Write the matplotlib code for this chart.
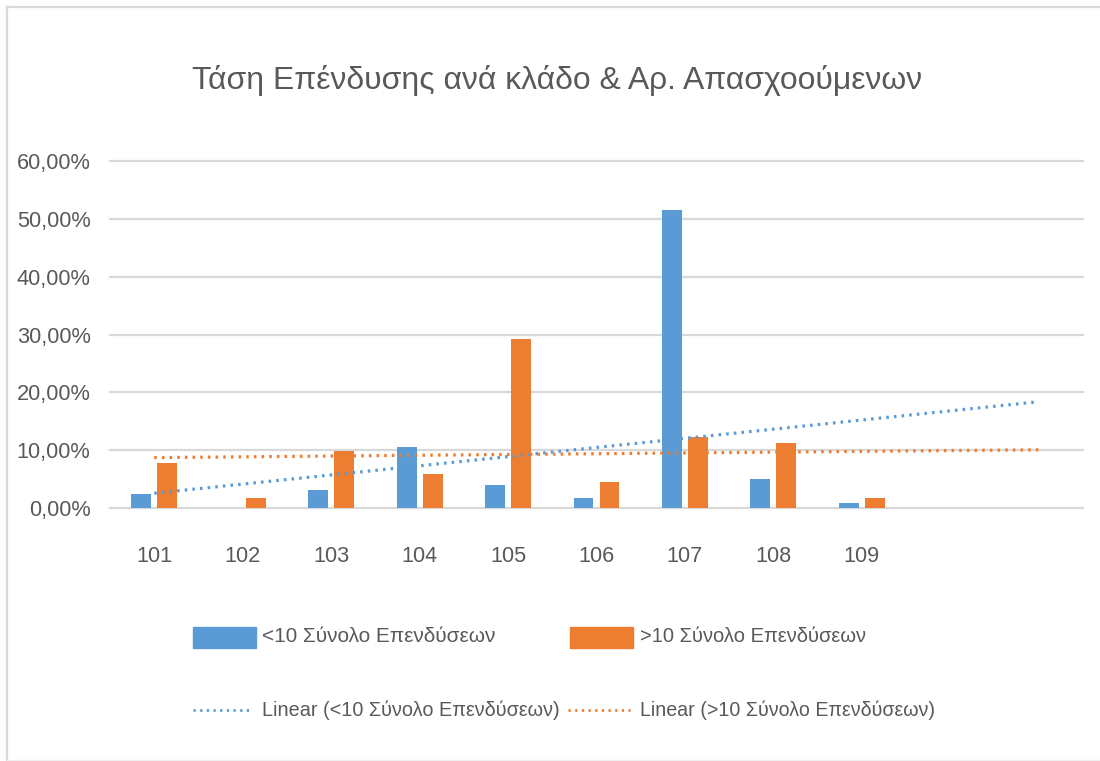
import matplotlib
matplotlib.use("Agg")
import matplotlib.pyplot as plt
import numpy as np
from matplotlib.lines import Line2D
from matplotlib.patches import Rectangle

plt.rcParams['font.family'] = ['Liberation Sans Narrow', 'Liberation Sans', 'DejaVu Sans']

# ---------------- data ----------------
categories = ['101', '102', '103', '104', '105', '106', '107', '108', '109', '', '']
small_firms = [2.4, 0.0, 3.1, 10.6, 4.1, 1.7, 51.5, 5.1, 1.0, None, None]   # <10
large_firms = [7.9, 1.7, 9.9, 5.9, 29.2, 4.5, 12.3, 11.3, 1.7, None, None]  # >10
trend_small = [2.6, 18.4]    # start / end of linear trendline
trend_large = [8.75, 10.1]
yticks = [0, 10, 20, 30, 40, 50, 60]
ytick_labels = ['0,00%', '10,00%', '20,00%', '30,00%', '40,00%', '50,00%', '60,00%']
title = 'Τάση Επένδυσης ανά κλάδο & Αρ. Απασχοούμενων'
name_small = '<10 Σύνολο Επενδύσεων'
name_large = '>10 Σύνολο Επενδύσεων'

BLUE = '#5B9BD5'
ORANGE = '#ED7D31'
GRID = '#D9D9D9'
TXT = '#595959'

W, H = 1100, 761
fig = plt.figure(figsize=(W / 100, H / 100), dpi=100)
fig.patch.set_facecolor('white')

def fx(px):
    return px / W

def fy(py):
    return 1 - py / H

ax = fig.add_axes([fx(110), fy(508.3), fx(1083) - fx(110), fy(160.7) - fy(508.3)])
x = np.arange(len(categories))
bw = 0.226
off = 0.147
sv = [np.nan if v is None else v for v in small_firms]
lv = [np.nan if v is None else v for v in large_firms]
ax.bar(x - off, sv, width=bw, color=BLUE, zorder=3)
ax.bar(x + off, lv, width=bw, color=ORANGE, zorder=3)

dot = (0, (0.8, 1.6))
ax.plot([x[0], x[-1]], trend_small, color=BLUE, lw=2.3, linestyle=dot, zorder=4)
ax.plot([x[0], x[-1]], trend_large, color=ORANGE, lw=2.3, linestyle=dot, zorder=4)

ax.set_xlim(-0.5, len(categories) - 0.5)
ax.set_ylim(0, 60)
ax.set_yticks(yticks)
ax.set_yticklabels(ytick_labels)
ax.set_xticks(x)
ax.set_xticklabels(categories)
for s in ax.spines.values():
    s.set_visible(False)
ax.yaxis.grid(True, color=GRID, lw=1.6, zorder=0)
for gl in ax.get_ygridlines():
    gl.set_clip_on(False)
ax.tick_params(axis='both', length=0, colors=TXT)
ax.tick_params(axis='y', pad=14, labelsize=17)
ax.tick_params(axis='x', pad=27, labelsize=17)
ax.set_axisbelow(True)

# title
t_title = fig.text(fx(557), fy(80), title, ha='center', va='center', color=TXT, fontsize=28)

# legend (manual layout)
ry1, ry2 = 637, 710
fig.patches.append(Rectangle((fx(193), fy(648)), fx(256) - fx(193), fy(627) - fy(648),
                             transform=fig.transFigure, color=BLUE))
fig.patches.append(Rectangle((fx(570), fy(648)), fx(633) - fx(570), fy(627) - fy(648),
                             transform=fig.transFigure, color=ORANGE))
fig.lines.append(Line2D([fx(193), fx(253)], [fy(ry2), fy(ry2)], transform=fig.transFigure,
                        color=BLUE, lw=2.0, linestyle=dot))
fig.lines.append(Line2D([fx(568), fx(630)], [fy(ry2), fy(ry2)], transform=fig.transFigure,
                        color=ORANGE, lw=2.0, linestyle=dot))
t1 = fig.text(fx(262), fy(ry1), name_small, ha='left', va='center', color=TXT, fontsize=17)
t2 = fig.text(fx(640), fy(ry1), name_large, ha='left', va='center', color=TXT, fontsize=17)
t3 = fig.text(fx(262), fy(ry2), 'Linear (' + name_small + ')', ha='left', va='center', color=TXT, fontsize=17)
t4 = fig.text(fx(640), fy(ry2), 'Linear (' + name_large + ')', ha='left', va='center', color=TXT, fontsize=17)

# fit text widths to reference widths
renderer = fig.canvas.get_renderer()
def fit(t, target):
    w = t.get_window_extent(renderer).width
    t.set_fontsize(t.get_fontsize() * target / w)
fit(t_title, 730)
fit(t1, 233)
fit(t2, 226)
fit(t3, 298)
fit(t4, 295)
lab = ax.get_yticklabels()[-1]
wy = lab.get_window_extent(renderer).width
ys = 17 * 74 / wy
ax.tick_params(axis='y', labelsize=ys)
lab = ax.get_xticklabels()[0]
wx = lab.get_window_extent(renderer).width
xs = 17 * 36 / wx
ax.tick_params(axis='x', labelsize=xs)

# chart border
fig.lines.append(Line2D([fx(7), fx(7)], [fy(7), fy(761)], transform=fig.transFigure, color=GRID, lw=1.6))
fig.lines.append(Line2D([fx(7), fx(1100)], [fy(7), fy(7)], transform=fig.transFigure, color=GRID, lw=1.6))
fig.lines.append(Line2D([fx(7), fx(1100)], [fy(760), fy(760)], transform=fig.transFigure, color='#EEEEEE', lw=1.0))

fig.savefig('out.png', dpi=100, facecolor='white')
